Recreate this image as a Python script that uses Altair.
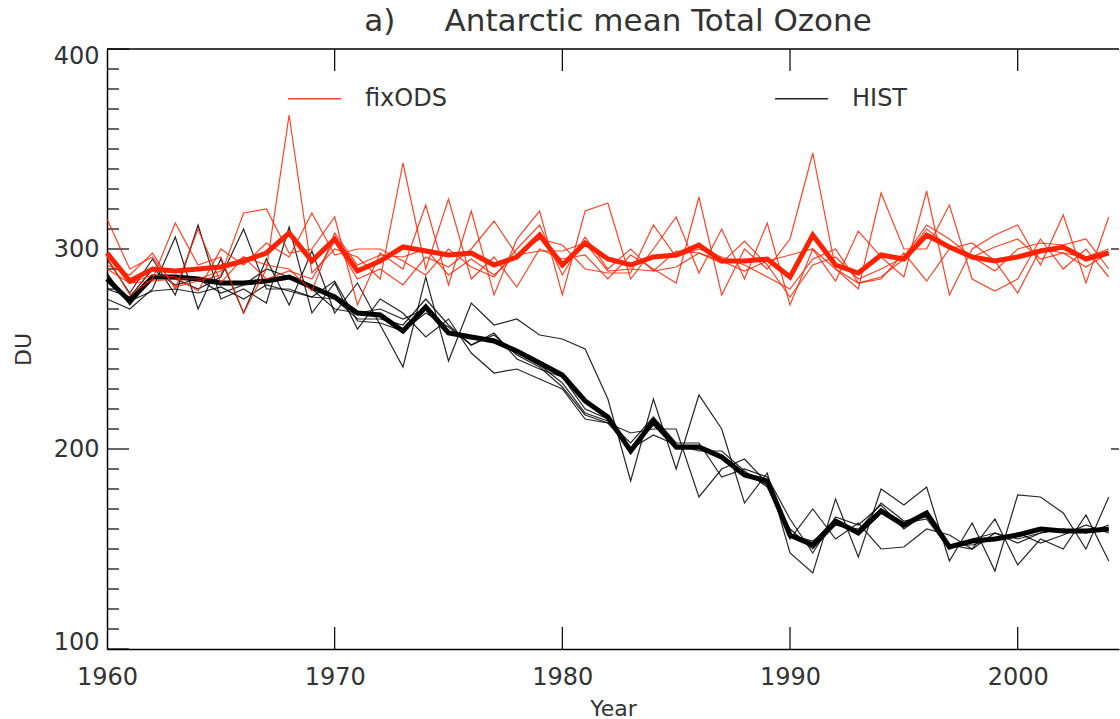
import altair as alt
import pandas as pd

years = list(range(1960, 2005))

# ensemble means (thick lines), DU
fix_mean = [298, 284, 290, 289, 290, 291, 294, 298, 308, 294,
            305, 289, 294, 301, 299, 297, 298, 292, 296, 307,
            292, 303, 295, 292, 296, 297, 302, 294, 294, 295,
            286, 307, 292, 288, 297, 295, 307, 301, 296, 294,
            296, 299, 301, 295, 298]
hist_mean = [285, 274, 286, 286, 285, 283, 283, 284, 286, 281,
             276, 268, 267, 259, 271, 258, 256, 254, 249, 243,
             237, 224, 216, 199, 214, 201, 201, 196, 187, 184,
             157, 152, 164, 158, 169, 162, 168, 151, 154, 155,
             157, 160, 159, 159, 160]

# individual ensemble members (thin lines), DU
fix_run1 = [315, 290, 296, 281, 284, 287, 318, 320, 298, 300, 316, 272, 298, 290, 322,
            282, 319, 277, 305, 319, 277, 319, 323, 285, 300, 316, 288, 310, 285, 313,
            272, 300, 284, 309, 296, 286, 329, 277, 300, 307, 312, 292, 317, 283, 316]
fix_run2 = [296, 277, 285, 313, 292, 296, 268, 290, 367, 288, 300, 296, 285, 343, 290,
            325, 285, 296, 281, 300, 295, 297, 285, 297, 290, 283, 326, 277, 300, 290,
            305, 348, 290, 280, 328, 300, 300, 322, 285, 279, 285, 305, 290, 300, 286]
fix_run3 = [292, 287, 298, 280, 310, 283, 296, 285, 289, 285, 304, 285, 290, 282, 296,
            291, 300, 314, 297, 305, 302, 290, 288, 288, 312, 296, 300, 296, 292, 286,
            280, 295, 300, 283, 285, 298, 284, 300, 303, 294, 278, 300, 298, 296, 300]
fix_run4 = [290, 283, 287, 286, 279, 300, 292, 303, 296, 318, 297, 300, 300, 294, 287,
            300, 291, 286, 300, 312, 287, 306, 290, 300, 289, 291, 298, 293, 304, 292,
            276, 292, 296, 285, 290, 296, 312, 305, 296, 289, 300, 303, 302, 305, 290]
fix_run5 = [297, 283, 284, 285, 285, 289, 296, 292, 290, 279, 308, 292, 297, 296, 300,
            287, 295, 287, 297, 299, 299, 303, 289, 290, 289, 299, 298, 294, 289, 294,
            297, 300, 290, 283, 286, 295, 310, 301, 296, 301, 305, 295, 298, 291, 298]

hist_run1 = [275, 270, 280, 306, 270, 295, 268, 295, 272, 299, 268, 283, 262, 241, 286,
             244, 273, 262, 265, 257, 255, 250, 225, 184, 225, 190, 227, 210, 173, 188,
             148, 138, 175, 146, 180, 172, 181, 144, 163, 139, 177, 176, 168, 150, 176]
hist_run2 = [295, 278, 295, 277, 312, 275, 280, 273, 311, 268, 283, 260, 275, 268, 256,
             265, 248, 238, 240, 235, 230, 215, 213, 208, 210, 210, 176, 190, 195, 183,
             155, 170, 155, 163, 150, 151, 160, 157, 150, 165, 142, 155, 150, 167, 144]
hist_run3 = [288, 272, 286, 285, 280, 286, 310, 280, 280, 276, 275, 265, 265, 262, 275,
             262, 252, 258, 245, 240, 236, 220, 215, 200, 212, 200, 200, 195, 188, 182,
             160, 150, 162, 160, 170, 163, 165, 150, 155, 158, 155, 158, 160, 158, 162]
hist_run4 = [280, 276, 290, 282, 285, 278, 282, 290, 286, 280, 270, 268, 270, 265, 270,
             258, 255, 255, 248, 242, 233, 218, 214, 203, 216, 203, 203, 186, 190, 186,
             165, 148, 166, 162, 172, 160, 168, 152, 152, 155, 158, 153, 157, 162, 158]
hist_run5 = [287, 274, 279, 280, 278, 281, 275, 282, 279, 276, 284, 264, 263, 259, 268,
             261, 252, 257, 247, 241, 231, 217, 213, 200, 207, 202, 199, 199, 189, 181,
             157, 154, 162, 159, 173, 164, 166, 152, 150, 158, 153, 158, 160, 158, 160]

experiments = ["fixODS", "HIST"]
colors = ["#ff2200", "#000000"]

# axis tick values
y_major = [100, 200, 300, 400]
y_minor = [v for v in range(110, 400, 10) if v % 100 != 0]
x_major = [1970, 1980, 1990, 2000]
x_labels = [1960, 1970, 1980, 1990, 2000]
y_right = [200, 300]


def members(exp, runs):
    rows = []
    for i, run in enumerate(runs):
        for yr, v in zip(years, run):
            rows.append({"year": yr, "du": v, "exp": exp, "run": f"{exp}{i}"})
    return pd.DataFrame(rows)


def mean_df(exp, vals):
    return pd.DataFrame({"year": years, "du": vals, "exp": exp})


W, H = 1012, 600
FONT = "DejaVu Sans"
TXT = "#333333"

xs = alt.Scale(domain=[1960, 2004.45], nice=False, zero=False)
ys = alt.Scale(domain=[100, 400], nice=False, zero=False)
cs = alt.Scale(domain=experiments, range=colors)

x_axis = alt.Axis(orient="bottom", values=x_labels, format="d", title="Year",
                  ticks=False, tickSize=0, grid=False, labelFlush=False,
                  labelFontSize=24, labelPadding=16, labelColor=TXT, labelFont=FONT,
                  titleFont=FONT, titleFontSize=22, titleFontWeight="normal",
                  titleColor=TXT, titlePadding=9, domainColor="#000000", domainWidth=1.5)
y_axis = alt.Axis(orient="left", values=y_major, format="d", title="DU",
                  ticks=False, tickSize=0, grid=False, labelFlush=True,
                  labelFlushOffset=5, labelFontSize=24, labelPadding=8,
                  labelColor=TXT, labelFont=FONT, titleFont=FONT, titleFontSize=22,
                  titleFontWeight="normal", titleColor=TXT, titlePadding=18,
                  domainColor="#000000", domainWidth=1.5)

legend = alt.Legend(orient="none", legendX=180, legendY=22, direction="horizontal",
                    symbolType="stroke", symbolSize=2809, symbolStrokeWidth=1.5,
                    labelFontSize=24, labelFont=FONT, labelColor=TXT, labelOffset=23,
                    columnPadding=325, title=None, padding=0)

tick_color = "#000000"

X = lambda f: alt.X(f, scale=xs, axis=x_axis)
Y = lambda f: alt.Y(f, scale=ys, axis=y_axis)
C = alt.Color("exp:N", scale=cs, legend=legend)

# data lines
hist_members = alt.Chart(members("HIST", [hist_run1, hist_run2, hist_run3, hist_run4, hist_run5])).mark_line(
    strokeWidth=1.2, opacity=0.85).encode(x=X("year:Q"), y=Y("du:Q"), color=C, detail="run:N")
hist_line = alt.Chart(mean_df("HIST", hist_mean)).mark_line(strokeWidth=5).encode(
    x=X("year:Q"), y=Y("du:Q"), color=C)
fix_members = alt.Chart(members("fixODS", [fix_run1, fix_run2, fix_run3, fix_run4, fix_run5])).mark_line(
    strokeWidth=1.2, opacity=0.85).encode(x=X("year:Q"), y=Y("du:Q"), color=C, detail="run:N")
fix_line = alt.Chart(mean_df("fixODS", fix_mean)).mark_line(strokeWidth=5).encode(
    x=X("year:Q"), y=Y("du:Q"), color=C)

# frame line and inward-pointing ticks
top_border = alt.Chart(pd.DataFrame({"v": [400]})).mark_rule(
    color=tick_color, strokeWidth=1.5).encode(y=Y("v:Q"), x=alt.value(0), x2=alt.value(W))
left_major = alt.Chart(pd.DataFrame({"v": y_major})).mark_rule(
    color=tick_color, strokeWidth=1.2).encode(y=Y("v:Q"), x=alt.value(0), x2=alt.value(22))
left_minor = alt.Chart(pd.DataFrame({"v": y_minor})).mark_rule(
    color=tick_color, strokeWidth=1.2).encode(y=Y("v:Q"), x=alt.value(0), x2=alt.value(12))
right_major = alt.Chart(pd.DataFrame({"v": y_right})).mark_rule(
    color=tick_color, strokeWidth=1.2).encode(y=Y("v:Q"), x=alt.value(W - 8), x2=alt.value(W))
bottom_ticks = alt.Chart(pd.DataFrame({"v": x_major})).mark_rule(
    color=tick_color, strokeWidth=1.2).encode(x=X("v:Q"), y=alt.value(H - 22), y2=alt.value(H))
top_ticks = alt.Chart(pd.DataFrame({"v": x_major})).mark_rule(
    color=tick_color, strokeWidth=1.2).encode(x=X("v:Q"), y=alt.value(0), y2=alt.value(22))

title = alt.TitleParams(text="a)" + "\u00a0" * 5 + "Antarctic mean Total Ozone",
                        font=FONT, fontSize=31, fontWeight="normal", color=TXT,
                        anchor="middle", frame="group", baseline="bottom",
                        offset=10, dx=5, dy=35)

chart = alt.layer(
    hist_members, top_border, left_major, left_minor, right_major, bottom_ticks,
    top_ticks, hist_line, fix_members, fix_line
).properties(
    width=W, height=H, title=title,
    autosize=alt.AutoSizeParams(type="none"),
    padding={"left": 107, "top": 49, "right": 1, "bottom": 70},
    background="#ffffff",
).configure(font=FONT, view=alt.ViewConfig(stroke=None))

chart.save("out.html", embed_options={"renderer": "svg", "actions": False})
